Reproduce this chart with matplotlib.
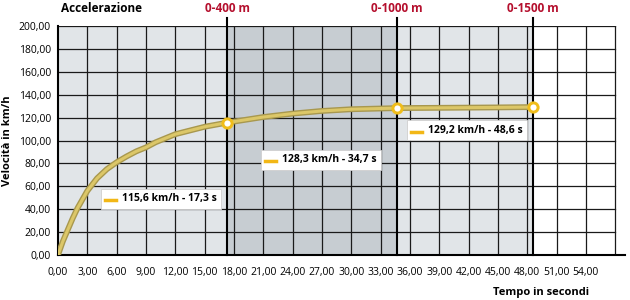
#!/usr/bin/env python3
import numpy as np
import matplotlib
matplotlib.use('Agg')
import matplotlib.pyplot as plt
from matplotlib.lines import Line2D
from matplotlib.offsetbox import (AnnotationBbox, DrawingArea, HPacker,
                                  TextArea)

#-------------------------------------------------------------------------#
# Data                                                                    #
#-------------------------------------------------------------------------#
time_s   = [0.0, 0.5, 1.0, 1.5, 2.0, 3.0, 4.0, 5.0, 6.0, 7.0, 8.0, 9.0,
            10.0, 12.0, 15.0, 17.3, 21.0, 24.0, 27.0, 30.0, 34.7, 40.0,
            45.0, 48.6]
speed    = [0.0, 12.0, 22.0, 32.0, 41.0, 56.0, 67.0, 75.0, 81.0, 86.0,
            90.5, 94.0, 98.5, 105.5, 112.0, 115.6, 120.5, 123.5, 125.8,
            127.3, 128.3, 128.6, 128.9, 129.2]
mark_t   = [17.3, 34.7, 48.6]
mark_v   = [115.6, 128.3, 129.2]
mark_lbl = ['0-400 m', '0-1000 m', '0-1500 m']
box_txt  = ['115,6 km/h - 17,3 s', '128,3 km/h - 34,7 s',
            '129,2 km/h - 48,6 s']
box_pos  = [(10.5, 49), (26.9, 83), (41.8, 109)]
x_ticks  = np.arange(0, 55, 3)
y_ticks  = np.arange(0, 201, 20)

#-------------------------------------------------------------------------#
# Figure                                                                  #
#-------------------------------------------------------------------------#
plt.rcParams['font.family'] = ['Open Sans', 'DejaVu Sans']
fig = plt.figure(figsize=(6.3, 3.0), dpi=100)
ax  = fig.add_axes([58/630, 1-255/300, (625-58)/630, (255-26)/300])

x_end = 57.0
ax.set_xlim(0, 58)
ax.set_ylim(0, 200)

# background bands
ax.axvspan(0, mark_t[0], color='#e1e5e8', lw=0, zorder=0)
ax.axvspan(mark_t[0], mark_t[1], color='#c7cdd2', lw=0, zorder=0)
ax.axvspan(mark_t[1], mark_t[2], color='#e1e5e8', lw=0, zorder=0)

# grid
for y in y_ticks[1:]:
    ax.plot([0, x_end], [y, y], color='#1a1a1a', lw=0.9, zorder=1)
for x in list(x_ticks[1:]) + [x_end]:
    ax.plot([x, x], [0, 200], color='#1a1a1a', lw=0.9, zorder=1)

# distance markers
for t, lbl in zip(mark_t, mark_lbl):
    ax.plot([t, t], [0, 207], color='black', lw=1.5, zorder=2,
            clip_on=False)
    ax.text(t, 215, lbl, color='#b5102e', fontsize=8.5, fontweight='bold',
            ha='center', va='center', clip_on=False)
ax.text(0.3, 215, 'Accelerazione', color='black', fontsize=8.5,
        fontweight='bold', ha='left', va='center')

# curve
ax.plot(time_s, speed, color='#a8984e', lw=4.2, zorder=3,
        solid_capstyle='round')
ax.plot(time_s, speed, color='#dcc768', lw=2.2, zorder=3,
        solid_capstyle='round')
ax.scatter(mark_t, mark_v, s=80, color='#f5c518', alpha=0.5, zorder=4,
           lw=0)
ax.scatter(mark_t, mark_v, s=42, facecolor='white', edgecolor='#f0bd1a',
           lw=2.0, zorder=5)

# value boxes
for (bx, by), txt in zip(box_pos, box_txt):
    da = DrawingArea(9, 8, 0, 0)
    da.add_artist(Line2D([0, 8], [3, 3], color='#f2b716', lw=2.5))
    ta = TextArea(txt, textprops=dict(fontsize=7.5, fontweight='bold'))
    pk = HPacker(children=[da, ta], pad=0, sep=3, align='center')
    ab = AnnotationBbox(pk, (bx, by), frameon=True, pad=0.3, zorder=6,
                        bboxprops=dict(fc='white', ec='#cfcfcf', lw=0.6,
                                       boxstyle='square,pad=0.3'))
    ax.add_artist(ab)

# axes style
for s in ['top', 'right']:
    ax.spines[s].set_visible(False)
ax.spines['left'].set_linewidth(1.5)
ax.spines['bottom'].set_linewidth(1.5)
ax.set_xticks(x_ticks)
ax.set_xticklabels([('%.2f' % v).replace('.', ',') for v in x_ticks])
ax.set_yticks(y_ticks)
ax.set_yticklabels([('%.2f' % v).replace('.', ',') for v in y_ticks])
ax.tick_params(length=0, labelsize=7.5)
ax.tick_params(axis='x', pad=9)
ax.tick_params(axis='y', pad=5)
ax.set_ylabel('Velocità in km/h', fontsize=8, fontweight='bold',
              labelpad=4)
fig.text(541/630, 1-292/300, 'Tempo in secondi', fontsize=8,
         fontweight='bold', ha='center', va='center')

fig.savefig('out.png', dpi=100, facecolor='white')
